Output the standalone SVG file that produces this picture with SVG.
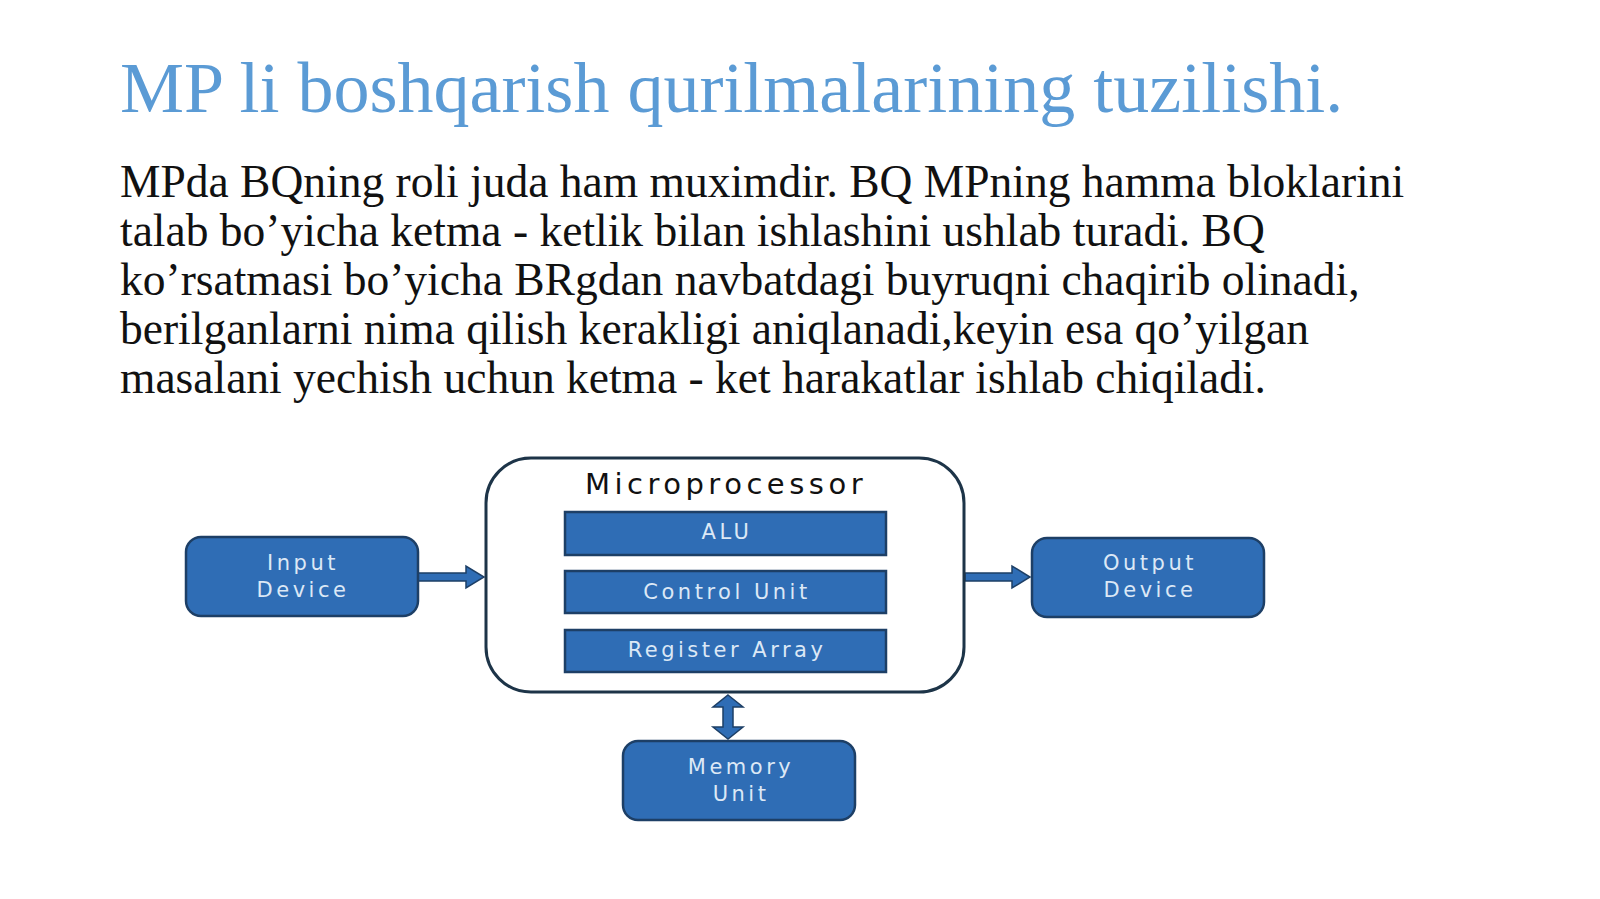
<svg xmlns="http://www.w3.org/2000/svg" width="1600" height="899" viewBox="0 0 1600 899">
<style>
.title{font-family:"Liberation Serif",serif;font-size:72px;fill:#5b9bd5}
.body{font-family:"Liberation Serif",serif;font-size:45.5px;fill:#111}
.blk{fill:#2f6db5;stroke:#1d3f66;stroke-width:2.5}
.bt{font-family:"DejaVu Sans","Liberation Sans",sans-serif;font-size:21px;fill:#dce8f6;text-anchor:middle;letter-spacing:3.5px}
.mp{font-family:"DejaVu Sans","Liberation Sans",sans-serif;font-size:29px;fill:#111;text-anchor:middle;letter-spacing:4.5px}
.arr{fill:#2f6db5;stroke:#1d3f66;stroke-width:1.5}
</style>
<rect width="1600" height="899" fill="#ffffff"/>
<text class="title" x="120" y="112">MP li boshqarish qurilmalarining tuzilishi.</text>
<text class="body">
<tspan x="120" y="197">MPda BQning roli juda ham muximdir. BQ MPning hamma bloklarini</tspan>
<tspan x="120" y="246">talab bo’yicha ketma - ketlik bilan ishlashini ushlab turadi. BQ</tspan>
<tspan x="120" y="295">ko’rsatmasi bo’yicha BRgdan navbatdagi buyruqni chaqirib olinadi,</tspan>
<tspan x="120" y="344">berilganlarni nima qilish kerakligi aniqlanadi,keyin esa qo’yilgan</tspan>
<tspan x="120" y="393">masalani yechish uchun ketma - ket harakatlar ishlab chiqiladi.</tspan>
</text>
<g id="connectors">
<path class="arr" d="M418,573 L466,573 L466,566 L484,577 L466,588 L466,581 L418,581 Z"/>
<path class="arr" d="M965,573 L1012,573 L1012,566 L1030,577 L1012,588 L1012,581 L965,581 Z"/>
<path class="arr" d="M728,695 L743,707 L733,707 L733,727 L743,727 L728,739 L713,727 L723,727 L723,707 L713,707 Z"/>
</g>
<g id="input">
<rect class="blk" x="186" y="537" width="232" height="79" rx="15"/>
<text class="bt" x="303" y="570">Input</text>
<text class="bt" x="303" y="597">Device</text>
</g>
<g id="microprocessor">
<rect x="486" y="458" width="478" height="234" rx="45" fill="#fff" stroke="#1d3448" stroke-width="3"/>
<text class="mp" x="726" y="494">Microprocessor</text>
</g>
<g id="alu">
<rect class="blk" x="565" y="512" width="321" height="43"/>
<text class="bt" x="727" y="539">ALU</text>
</g>
<g id="control">
<rect class="blk" x="565" y="571" width="321" height="42"/>
<text class="bt" x="727" y="599">Control Unit</text>
</g>
<g id="register">
<rect class="blk" x="565" y="630" width="321" height="42"/>
<text class="bt" x="727" y="657">Register Array</text>
</g>
<g id="output">
<rect class="blk" x="1032" y="538" width="232" height="79" rx="15"/>
<text class="bt" x="1150" y="570">Output</text>
<text class="bt" x="1150" y="597">Device</text>
</g>
<g id="memory">
<rect class="blk" x="623" y="741" width="232" height="79" rx="15"/>
<text class="bt" x="741" y="774">Memory</text>
<text class="bt" x="741" y="801">Unit</text>
</g>
</svg>
